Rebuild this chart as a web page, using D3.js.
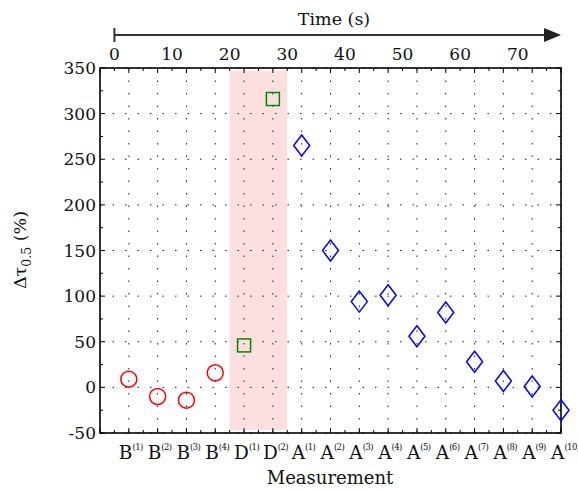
<!DOCTYPE html>
<html><head><meta charset="utf-8">
<script src="https://cdn.jsdelivr.net/npm/d3@7"></script>
<style>body{margin:0;background:#fff}text{font-family:"DejaVu Serif",serif;fill:#111}</style>
</head><body><svg id="c" width="578" height="490"></svg>
<script>
const letters = ["B","B","B","B","D","D","A","A","A","A","A","A","A","A","A","A"];
const indices = ["1","2","3","4","1","2","1","2","3","4","5","6","7","8","9","10"];
const groups  = ["B","B","B","B","D","D","A","A","A","A","A","A","A","A","A","A"];
const values  = [9,-10,-14,16,46,316,265,150,94,101,56,82,28,7,1,-25];
const yTicks = [-50,0,50,100,150,200,250,300,350];
const timeTicks = [0,10,20,30,40,50,60,70];
const bandTime = [20,30];

const svg = d3.select("#c");
const L=100,R=561,T=68,B=433;
const x = d3.scaleLinear().domain([-2.5,77.5]).range([L,R]);
const y = d3.scaleLinear().domain([-50,350]).range([B,T]);
const mt = i => 2.5+5*i;

// band
svg.append("rect").attr("x",x(bandTime[0])).attr("width",x(bandTime[1])-x(bandTime[0]))
  .attr("y",y(347)).attr("height",y(-47)-y(347)).attr("fill","#fddfe0");

// grid
const g = svg.append("g").attr("stroke","#222").attr("stroke-width",1).attr("stroke-dasharray","1.5 11");
letters.forEach((d,i)=>g.append("line").attr("x1",x(mt(i))).attr("x2",x(mt(i))).attr("y1",T).attr("y2",B));
yTicks.forEach(v=>g.append("line").attr("x1",L).attr("x2",R).attr("y1",y(v)).attr("y2",y(v)));

// ticks inward
const tk = svg.append("g").attr("stroke","#000").attr("stroke-width",1);
for(let t=-2.5;t<=77.5+1e-9;t+=2.5){
  const major = Math.abs(((t-2.5)/5)-Math.round((t-2.5)/5))<1e-6;
  const len = major?5:3;
  tk.append("line").attr("x1",x(t)).attr("x2",x(t)).attr("y1",B).attr("y2",B-len);
  tk.append("line").attr("x1",x(t)).attr("x2",x(t)).attr("y1",T).attr("y2",T+len);
}
for(let v=-50;v<=350;v+=25){
  const len = v%50===0?5:3;
  tk.append("line").attr("x1",L).attr("x2",L+len).attr("y1",y(v)).attr("y2",y(v));
  tk.append("line").attr("x1",R).attr("x2",R-len).attr("y1",y(v)).attr("y2",y(v));
}

// box
svg.append("rect").attr("x",L).attr("y",T).attr("width",R-L).attr("height",B-T)
  .attr("fill","none").attr("stroke","#000").attr("stroke-width",1.6);

// y tick labels
svg.append("g").selectAll("text").data(yTicks).join("text")
  .attr("x",L-4).attr("y",d=>y(d)).attr("dy","0.36em").attr("text-anchor","end")
  .attr("font-size",17).text(d=>d);

// markers
const mk = svg.append("g").attr("fill","none").attr("stroke-width",1.5);
values.forEach((v,i)=>{
  const cx=x(mt(i)), cy=y(v), grp=groups[i];
  if(grp==="B") mk.append("circle").attr("cx",cx).attr("cy",cy).attr("r",8).attr("stroke","#f00");
  else if(grp==="D") mk.append("rect").attr("x",cx-6.5).attr("y",cy-6.5).attr("width",13).attr("height",13).attr("stroke","#080");
  else mk.append("path").attr("d",`M${cx},${cy-10.5}L${cx+8},${cy}L${cx},${cy+10.5}L${cx-8},${cy}Z`).attr("stroke","#00f");
});

// bottom labels
const bl = svg.append("g");
letters.forEach((d,i)=>{
  const t = bl.append("text").attr("x",x(mt(i))-10).attr("y",459).attr("text-anchor","start").attr("font-size",18.5);
  t.append("tspan").text(d);
  t.append("tspan").attr("font-size",8.5).attr("dy",-9).attr("letter-spacing",-0.6).text("("+indices[i]+")");
});
svg.append("text").attr("x",330).attr("y",484).attr("text-anchor","middle").attr("font-size",18).text("Measurement");

// y label
const yl = svg.append("text").attr("transform","translate(26,250) rotate(-90)").attr("text-anchor","middle").attr("font-size",17.5);
yl.append("tspan").text("Δτ");
yl.append("tspan").attr("font-size",12.5).attr("dy",5).text("0.5");
yl.append("tspan").attr("dy",-5).text(" (%)");

// top time axis
const ta = svg.append("g");
const ax0 = x(0), ay = 35;
ta.append("line").attr("x1",ax0).attr("x2",548).attr("y1",ay).attr("y2",ay).attr("stroke","#333").attr("stroke-width",1.8);
ta.append("line").attr("x1",ax0).attr("x2",ax0).attr("y1",ay-7).attr("y2",ay+7).attr("stroke","#333").attr("stroke-width",2);
ta.append("path").attr("d",`M544,${ay-7}L561,${ay}L544,${ay+7}Z`).attr("fill","#222");
ta.selectAll("text.t").data(timeTicks).join("text").attr("class","t")
  .attr("x",d=>x(d)).attr("y",60).attr("text-anchor","middle").attr("font-size",17).text(d=>d);
ta.append("text").attr("x",334).attr("y",25).attr("text-anchor","middle").attr("font-size",17.5).text("Time (s)");
</script></body></html>
